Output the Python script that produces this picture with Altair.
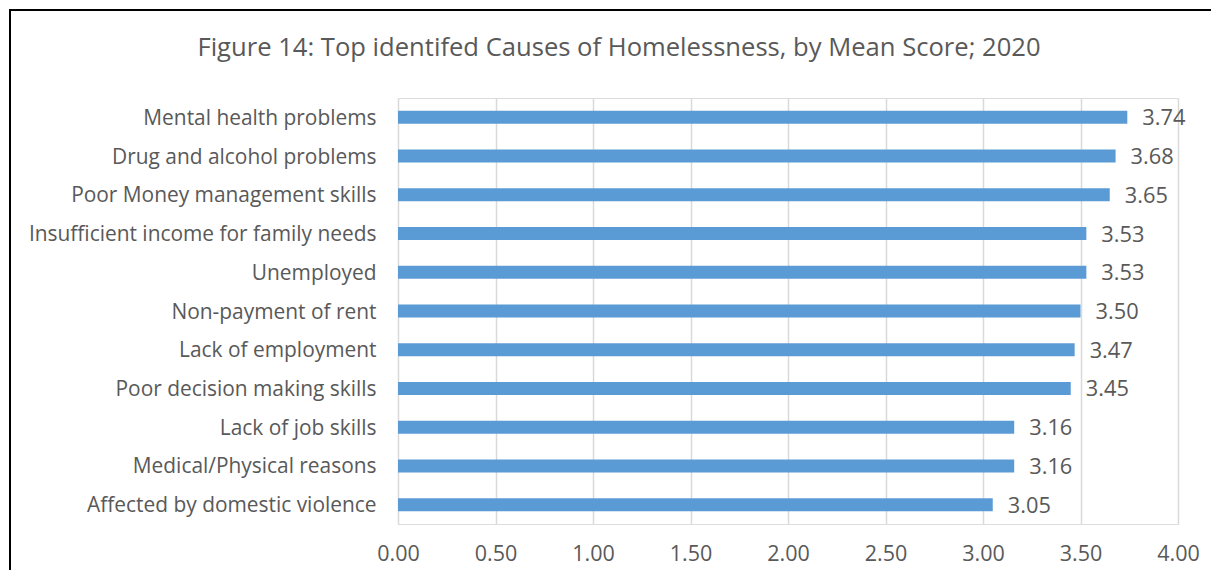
import altair as alt
import pandas as pd

causes = [
    "Mental health problems",
    "Drug and alcohol problems",
    "Poor Money management skills",
    "Insufficient income for family needs",
    "Unemployed",
    "Non-payment of rent",
    "Lack of employment",
    "Poor decision making skills",
    "Lack of job skills",
    "Medical/Physical reasons",
    "Affected by domestic violence",
]
scores = [3.74, 3.68, 3.65, 3.53, 3.53, 3.50, 3.47, 3.45, 3.16, 3.16, 3.05]
x_ticks = [0.0, 0.5, 1.0, 1.5, 2.0, 2.5, 3.0, 3.5, 4.0]

df = pd.DataFrame({"cause": causes, "score": scores})
df["label"] = df["score"].map(lambda v: f"{v:.2f}")

FONT = "Open Sans"
GREY = "#595959"
W, H = 780, 426

y_enc = alt.Y("cause:N", sort=causes, title=None,
              scale=alt.Scale(paddingInner=0.66, paddingOuter=0.33),
              axis=alt.Axis(labelFont=FONT, labelFontSize=20.9, labelColor=GREY,
                            labelPadding=22, labelOffset=1.5, ticks=False,
                            domain=False, grid=False, labelLimit=400))
x_enc = alt.X("score:Q", title=None,
              scale=alt.Scale(domain=[0, 4], nice=False),
              axis=alt.Axis(values=x_ticks, format=".2f", labelFont=FONT,
                            labelFontSize=21.5, labelColor=GREY, labelPadding=19,
                            labelFlush=False, ticks=False, domain=False, grid=True,
                            gridColor="#D9D9D9", gridWidth=1.5))

bars = alt.Chart(df).mark_bar(size=13, color="#5B9BD5").encode(x=x_enc, y=y_enc)
labels = alt.Chart(df).mark_text(align="left", baseline="middle", dx=15, dy=1,
                                 font=FONT, fontSize=21.8, color=GREY).encode(
    x="score:Q", y=alt.Y("cause:N", sort=causes), text="label:N")

frame = alt.Chart(df.head(1)).mark_rect(fill=None, stroke="#000000", strokeWidth=2).encode(
    x=alt.value(-388), x2=alt.value(900), y=alt.value(-88), y2=alt.value(600))

title = alt.Chart(df.head(1)).mark_text(font=FONT, fontSize=25.6, color=GREY,
                                        align="center", baseline="middle").encode(
    x=alt.value(221), y=alt.value(-50),
    text=alt.value("Figure 14: Top identifed Causes of Homelessness, by Mean Score; 2020"))

chart = alt.layer(frame, bars, labels, title).properties(
    width=W, height=H,
    autosize=alt.AutoSizeParams(type="none"),
    padding={"left": 390, "top": 90, "right": 33, "bottom": 46},
).configure_view(stroke=None).configure(background="white")

chart.save("out.html", embed_options={"renderer": "svg", "actions": False})
